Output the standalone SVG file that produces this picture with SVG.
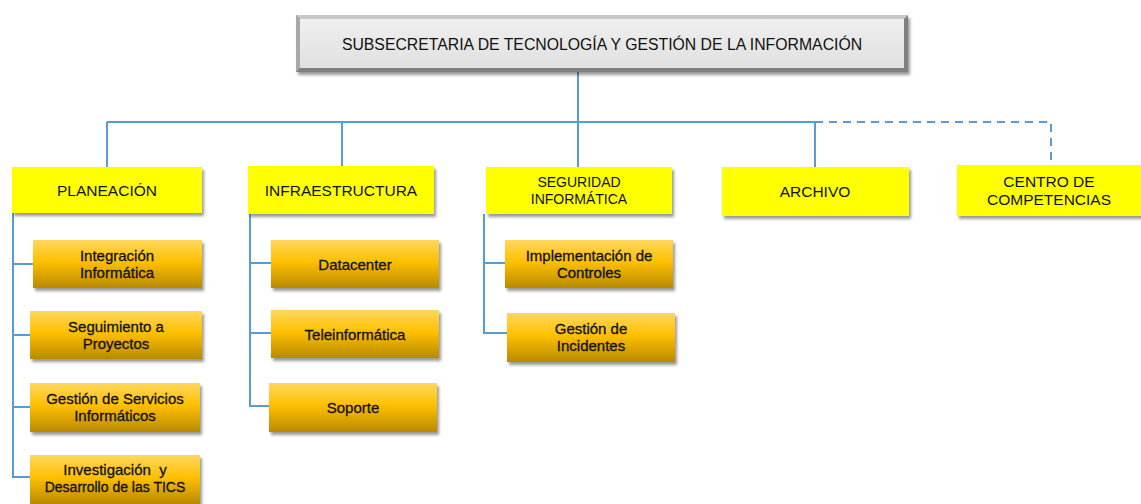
<svg xmlns="http://www.w3.org/2000/svg" width="1141" height="504" viewBox="0 0 1141 504">
<defs>
<linearGradient id="og" x1="0" y1="0" x2="0" y2="1">
<stop offset="0" stop-color="#FFD75E"/>
<stop offset="0.45" stop-color="#FFC000"/>
<stop offset="1" stop-color="#B88A00"/>
</linearGradient>
<linearGradient id="gg" x1="0" y1="0" x2="0" y2="1">
<stop offset="0" stop-color="#EFEFEF"/>
<stop offset="1" stop-color="#E0E0E0"/>
</linearGradient>
<filter id="sh" x="-10%" y="-20%" width="125%" height="150%">
<feDropShadow dx="2" dy="3" stdDeviation="1.5" flood-color="#000" flood-opacity="0.4"/>
</filter>
</defs>
<style>
.ln{fill:none;stroke:#5B9BD5;stroke-width:2}
.dl{fill:none;stroke:#5B9BD5;stroke-width:2;stroke-dasharray:8,6}
.yb{fill:#FFFF00;filter:url(#sh)}
.ob{fill:url(#og);filter:url(#sh)}
.t{font-family:"Liberation Sans",Arial,sans-serif;fill:#111;text-anchor:middle}
.yt{font-size:15.5px}
.st{font-size:14px}
.ot{font-size:15px;stroke:#111;stroke-width:0.3}
</style>
<g id="connectors">
<path class="ln" d="M578 72V122M107 122H815M107 122V168M342 122V166M578 122V167M815 122V167"/>
<path class="dl" d="M815 122H1051V165"/>
<path class="ln" d="M13 213V477H30M13 264H33M13 335H30M13 407H30"/>
<path class="ln" d="M250 214V406H269M250 263H271M250 333H271"/>
<path class="ln" d="M484 214V333H507M484 263H505"/>
</g>
<g id="top">
<rect x="296" y="15" width="612" height="57" fill="#7F7F7F" filter="url(#sh)"/>
<rect x="300" y="19" width="604" height="49" fill="url(#gg)"/>
<path d="M296 15L300 19H904L908 15Z" fill="#C8C8C8"/>
<path d="M296 15L300 19V68L296 72Z" fill="#A8A8A8"/>
<text class="t" x="602" y="50" font-size="15.8">SUBSECRETARIA DE TECNOLOGÍA Y GESTIÓN DE LA INFORMACIÓN</text>
</g>
<g id="planeacion"><rect class="yb" x="12" y="167" width="190" height="46"/><text class="t yt" x="107" y="196">PLANEACIÓN</text></g>
<g id="infraestructura"><rect class="yb" x="248" y="166" width="186" height="48"/><text class="t yt" x="341" y="196">INFRAESTRUCTURA</text></g>
<g id="seguridad"><rect class="yb" x="486" y="167" width="186" height="47"/><text class="t st" x="579" y="187">SEGURIDAD</text><text class="t st" x="579" y="204">INFORMÁTICA</text></g>
<g id="archivo"><rect class="yb" x="722" y="167" width="187" height="49"/><text class="t yt" x="815" y="197">ARCHIVO</text></g>
<g id="centro"><rect class="yb" x="957" y="165" width="186" height="51"/><text class="t yt" x="1049" y="187">CENTRO DE</text><text class="t yt" x="1049" y="205">COMPETENCIAS</text></g>
<g id="integracion"><rect class="ob" x="33" y="240" width="169" height="48"/><text class="t ot" x="117" y="261">Integración</text><text class="t ot" x="117" y="278">Informática</text></g>
<g id="seguimiento"><rect class="ob" x="30" y="311" width="172" height="48"/><text class="t ot" x="116" y="332">Seguimiento a</text><text class="t ot" x="116" y="349">Proyectos</text></g>
<g id="gestionservicios"><rect class="ob" x="30" y="383" width="170" height="49"/><text class="t ot" x="115" y="404">Gestión de Servicios</text><text class="t ot" x="115" y="421">Informáticos</text></g>
<g id="investigacion"><rect class="ob" x="30" y="455" width="170" height="49"/><text class="t ot" font-size="14px" x="115" y="475" style="white-space:pre">Investigación  y</text><text class="t ot" style="font-size:14px" x="115" y="492">Desarrollo de las TICS</text></g>
<g id="datacenter"><rect class="ob" x="271" y="240" width="168" height="48"/><text class="t ot" x="355" y="270">Datacenter</text></g>
<g id="teleinformatica"><rect class="ob" x="271" y="310" width="168" height="48"/><text class="t ot" x="355" y="340">Teleinformática</text></g>
<g id="soporte"><rect class="ob" x="269" y="383" width="168" height="49"/><text class="t ot" x="353" y="413">Soporte</text></g>
<g id="implementacion"><rect class="ob" x="505" y="240" width="168" height="48"/><text class="t ot" x="589" y="261">Implementación de</text><text class="t ot" x="589" y="278">Controles</text></g>
<g id="incidentes"><rect class="ob" x="507" y="313" width="168" height="49"/><text class="t ot" x="591" y="334">Gestión de</text><text class="t ot" x="591" y="351">Incidentes</text></g>
</svg>
